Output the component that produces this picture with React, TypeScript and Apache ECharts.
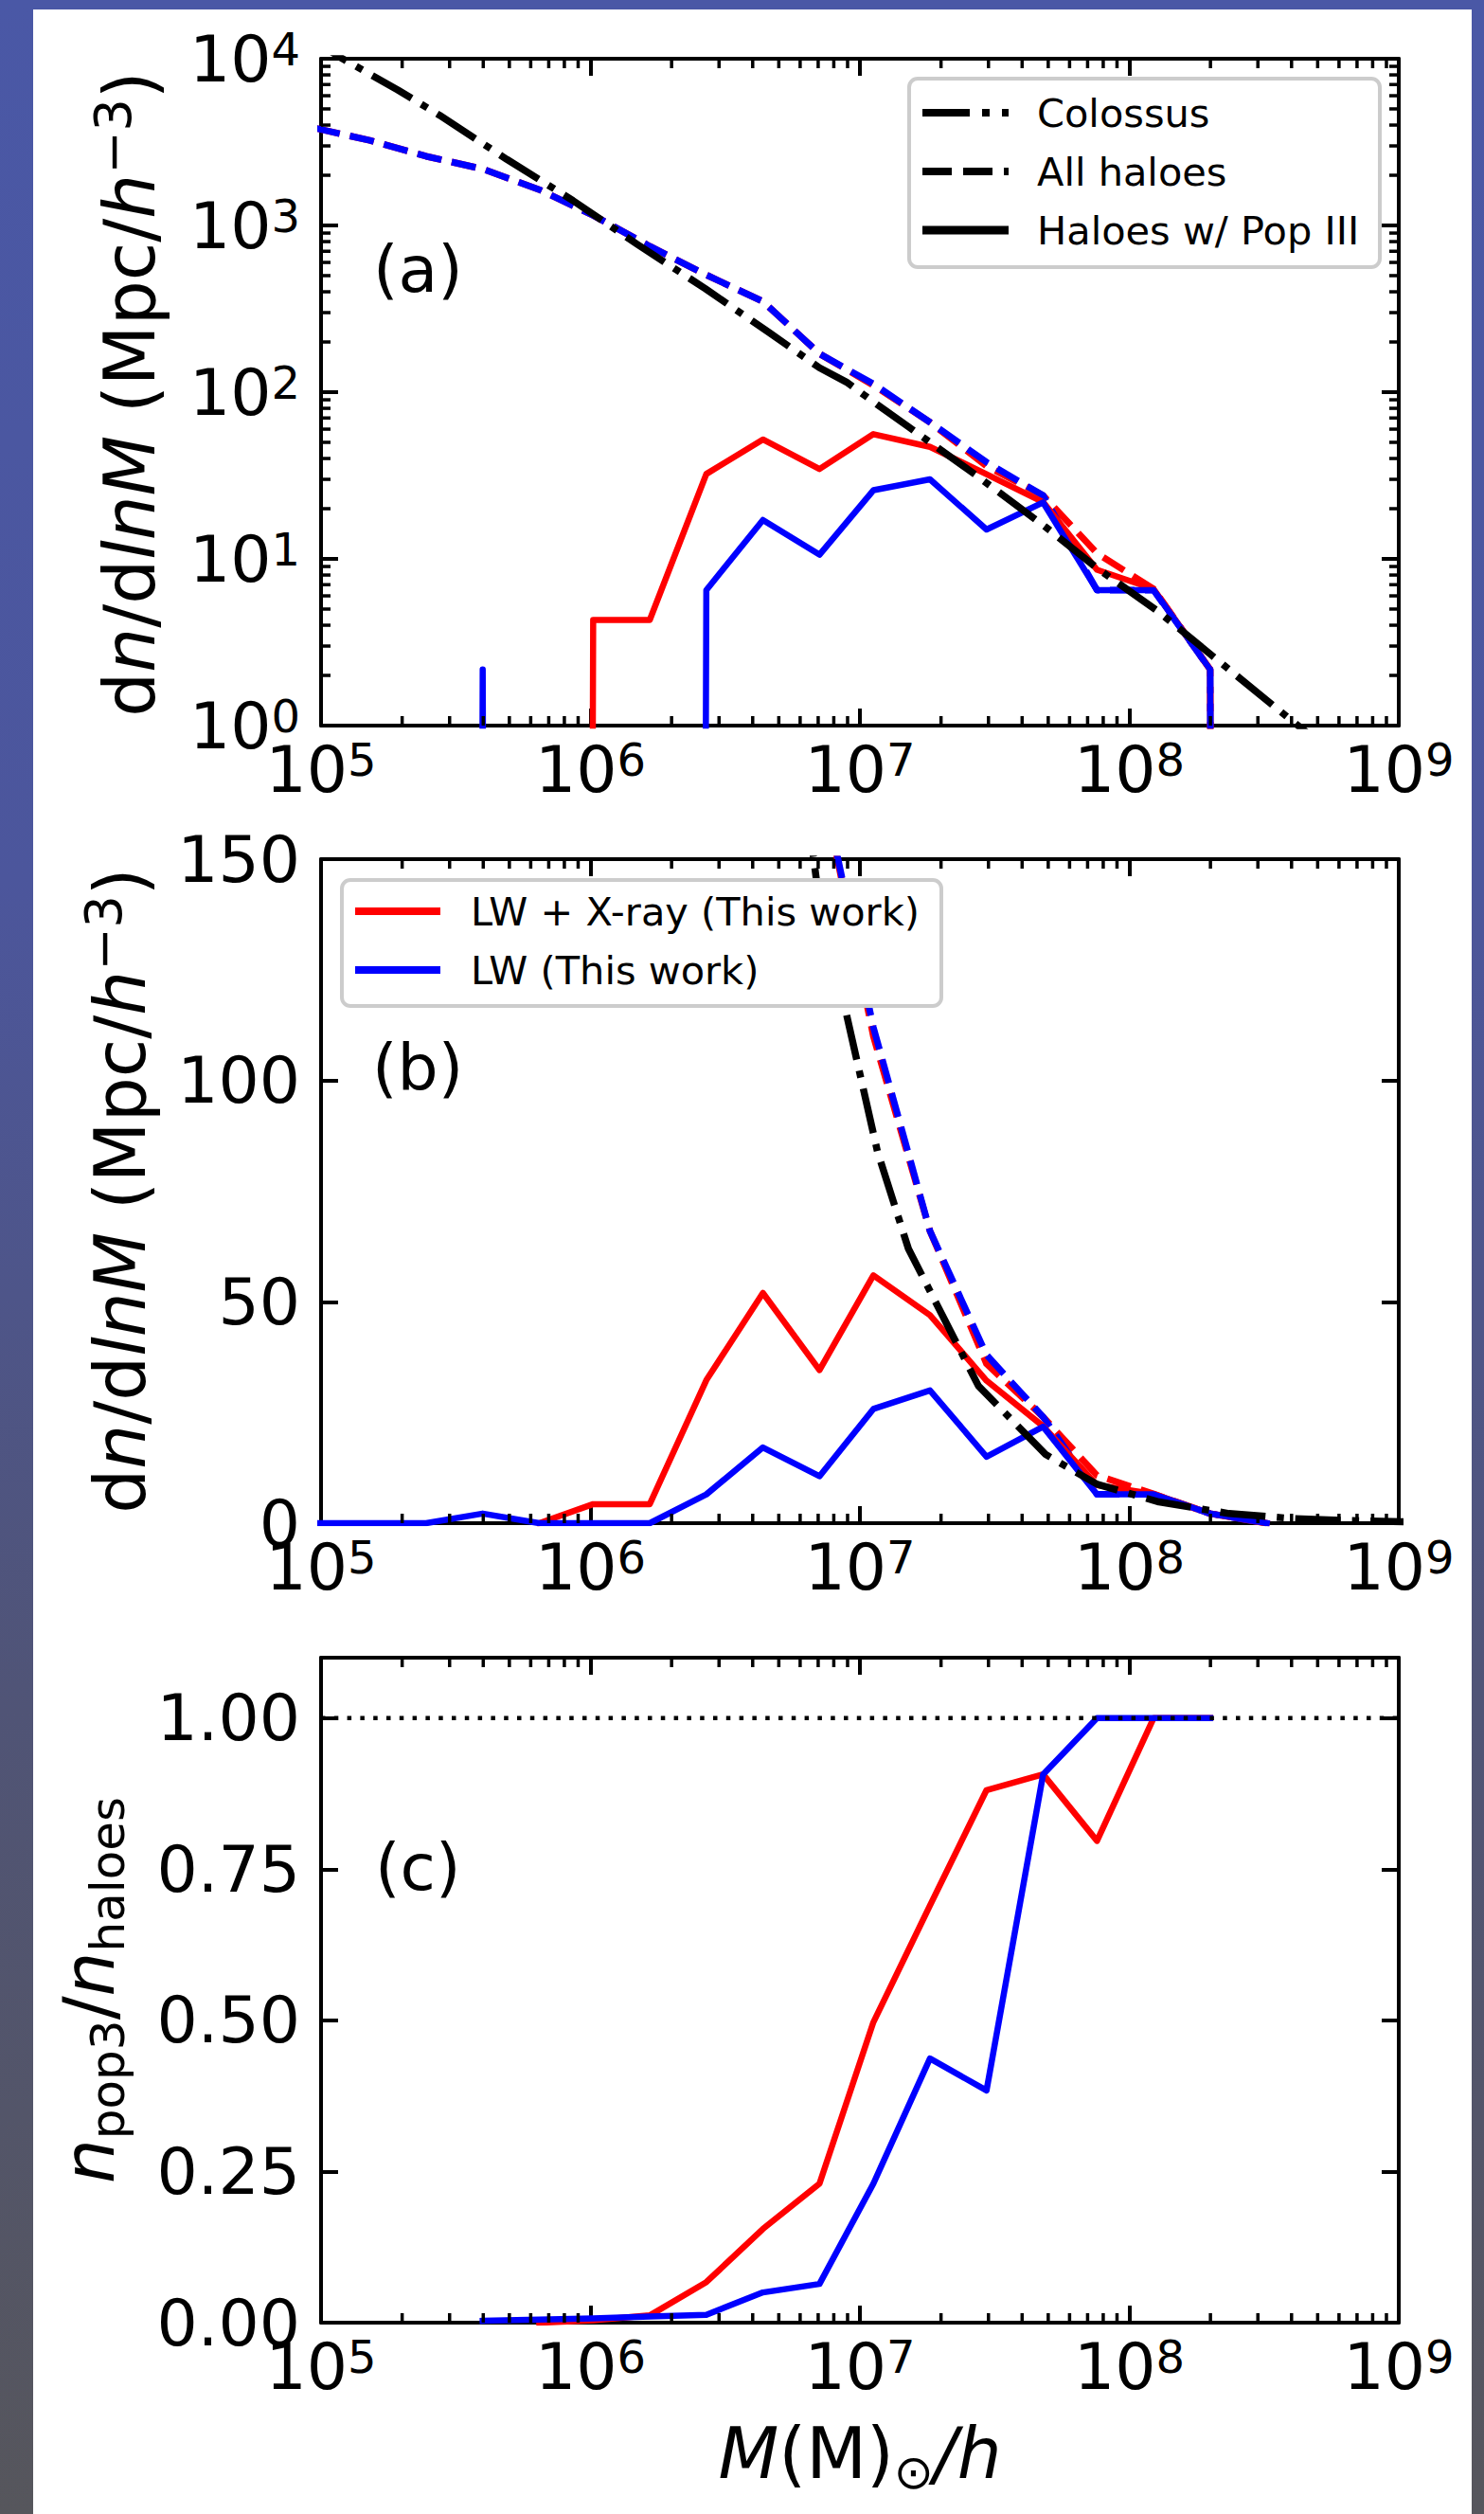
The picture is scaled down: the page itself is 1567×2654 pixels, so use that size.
import React, { useEffect, useRef } from "react";
import * as echarts from "echarts";

const FONT = "DejaVu Sans";
const W = 1567;
const H = 2654;

// ---------------- data ----------------
// log10 of halo mass bins (M_sun/h)
const massLog = [4.98, 5.18, 5.39, 5.6, 5.81, 6.01, 6.22, 6.43, 6.64, 6.85, 7.05, 7.26, 7.47, 7.68, 7.88, 8.09, 8.3, 8.51];
// dn/dlnM of all haloes (dashed)
const allHaloesXray = [3830, 3240, 2600, 2180, 1640, 1150, 750, 505, 350, 170, 110, 66, 36, 24, 10.8, 6.6, 2.17, 0];
const allHaloesLW = [3830, 3240, 2600, 2180, 1640, 1150, 750, 505, 350, 170, 112, 66, 38, 24, 6.5, 6.5, 2.17, 0];
// dn/dlnM of haloes hosting Pop III (solid)
const pop3Xray = [null, null, null, null, 0, 4.3, 4.3, 32.3, 52, 34.6, 56, 47, 32.2, 21.9, 8.6, 6.6, 2.17, 0];
const pop3LW = [0, 0, 0, 2.17, 0, 0, 0, 6.5, 17.1, 10.6, 25.8, 30, 15, 21.8, 6.5, 6.5, 2.17, 0];
// panel (c): fraction of haloes with Pop III
const fracMassLog = [5.6, 5.81, 6.01, 6.22, 6.43, 6.64, 6.85, 7.05, 7.26, 7.47, 7.68, 7.88, 8.09, 8.3];
const fracXray = [null, 0, 0.004, 0.012, 0.067, 0.155, 0.23, 0.497, 0.69, 0.881, 0.907, 0.797, 1.0, 1.0];
const fracLW = [0.003, 0.005, 0.007, 0.01, 0.013, 0.05, 0.064, 0.23, 0.437, 0.384, 0.907, 1.0, 1.0, 1.0];
// Colossus analytic mass function
const colossusMassLog = [4.95, 5.08, 5.285, 5.44, 5.69, 5.935, 6.174, 6.427, 6.666, 6.85, 6.95, 7.065, 7.18, 7.44, 7.69, 7.88, 8.11, 8.37, 8.6, 8.8, 9.05];
const colossusDensity = [13500, 10000, 6500, 4580, 2490, 1410, 770, 417, 226, 140, 115, 84, 62, 31, 15.5, 8.8, 4.8, 2.17, 1.08, 0.6, 0.28];
// ticks
const xTickExponents = [5, 6, 7, 8, 9];
const yTickExponentsA = [0, 1, 2, 3, 4];
const yTicksB = [0, 50, 100, 150];
const yTicksC = [0, 0.25, 0.5, 0.75, 1.0];
const yMaxC = 1.1;

// ---------------- style ----------------
const RED = "#ff0000";
const BLUE = "#0000ff";
const BLACK = "#000000";
const GRIDS = [
  { left: 339, top: 62, width: 1138, height: 704 },
  { left: 339, top: 907, width: 1138, height: 701 },
  { left: 339, top: 1750, width: 1138, height: 702 },
];

const pairs = (xs: number[], ys: (number | null)[], logSafe: boolean) =>
  xs
    .map((m, i) => {
      const y = ys[i];
      if (y === null || y === undefined) return null;
      return [Math.pow(10, m), logSafe ? (y > 0 ? y : 1e-100) : y];
    })
    .filter((p) => p !== null);

const powLabel = (v: number) => `{b|10}{s|${Math.round(Math.log10(v))}}`;
const powRich = {
  b: { fontFamily: FONT, fontSize: 68, lineHeight: 68, color: BLACK },
  s: { fontFamily: FONT, fontSize: 48, lineHeight: 30, verticalAlign: "top", color: BLACK },
};
const axisLineStyle = { color: BLACK, width: 4 };

function lineSeries(gi: number, data: any[], color: string, width: number, dash: number[] | null, z: number) {
  return {
    type: "line",
    xAxisIndex: 2 * gi,
    yAxisIndex: 2 * gi,
    data,
    symbol: "none",
    showSymbol: false,
    silent: true,
    clip: true,
    z,
    lineStyle: {
      color,
      width,
      type: dash ? dash : "solid",
      cap: dash ? "butt" : "square",
      join: "round",
    },
  };
}

const minorXVals: number[] = [];
xTickExponents.slice(0, -1).forEach((e) => {
  for (let d = 2; d <= 9; d++) minorXVals.push(d * Math.pow(10, e));
});
const minorYValsA: number[] = [];
yTickExponentsA.slice(0, -1).forEach((e) => {
  for (let d = 2; d <= 9; d++) minorYValsA.push(d * Math.pow(10, e));
});

const MINOR_LEN = 10;
const tickStyle = { stroke: BLACK, lineWidth: 3.5 };

function minorXSeries(gi: number, refY: number) {
  return {
    type: "custom",
    xAxisIndex: 2 * gi,
    yAxisIndex: 2 * gi,
    silent: true,
    clip: false,
    z: 10,
    data: minorXVals.map((v) => [v, refY]),
    renderItem: (params: any, api: any) => {
      const cs = params.coordSys;
      const x = api.coord([api.value(0), refY])[0];
      return {
        type: "group",
        children: [
          { type: "line", shape: { x1: x, y1: cs.y + cs.height, x2: x, y2: cs.y + cs.height - MINOR_LEN }, style: tickStyle },
          { type: "line", shape: { x1: x, y1: cs.y, x2: x, y2: cs.y + MINOR_LEN }, style: tickStyle },
        ],
      };
    },
  };
}

function minorYSeries(gi: number, refX: number, vals: number[]) {
  return {
    type: "custom",
    xAxisIndex: 2 * gi,
    yAxisIndex: 2 * gi,
    silent: true,
    clip: false,
    z: 10,
    data: vals.map((v) => [refX, v]),
    renderItem: (params: any, api: any) => {
      const cs = params.coordSys;
      const y = api.coord([refX, api.value(1)])[1];
      return {
        type: "group",
        children: [
          { type: "line", shape: { x1: cs.x, y1: y, x2: cs.x + MINOR_LEN, y2: y }, style: tickStyle },
          { type: "line", shape: { x1: cs.x + cs.width, y1: y, x2: cs.x + cs.width - MINOR_LEN, y2: y }, style: tickStyle },
        ],
      };
    },
  };
}

function xAxes(gi: number) {
  const base = {
    gridIndex: gi,
    type: "log",
    logBase: 10,
    min: Math.pow(10, xTickExponents[0]),
    max: Math.pow(10, xTickExponents[xTickExponents.length - 1]),
    splitLine: { show: false },
    minorTick: { show: false },
    axisLine: { show: true, onZero: false, lineStyle: axisLineStyle },
    axisTick: { show: true, inside: true, length: 18, lineStyle: axisLineStyle },
  };
  return [
    {
      ...base,
      position: "bottom",
      axisLabel: { show: true, margin: 12, formatter: powLabel, rich: powRich, color: BLACK, fontFamily: FONT, fontSize: 68 },
    },
    { ...base, position: "top", axisLabel: { show: false } },
  ];
}

function yAxes(gi: number, spec: any, labelFmt: any, rich?: any) {
  const base = {
    gridIndex: gi,
    splitLine: { show: false },
    minorTick: { show: false },
    axisLine: { show: true, onZero: false, lineStyle: axisLineStyle },
    axisTick: { show: true, inside: true, length: 18, lineStyle: axisLineStyle },
    ...spec,
  };
  return [
    {
      ...base,
      position: "left",
      axisLabel: { show: true, margin: 22, formatter: labelFmt, rich, color: BLACK, fontFamily: FONT, fontSize: 68 },
    },
    { ...base, position: "right", axisLabel: { show: false } },
  ];
}

const labelRich = {
  r: { fontFamily: FONT, fontSize: 74, lineHeight: 90, fill: BLACK, color: BLACK },
  i: { fontFamily: FONT, fontSize: 74, lineHeight: 90, fontStyle: "italic", fill: BLACK, color: BLACK },
  sup: { fontFamily: FONT, fontSize: 54, lineHeight: 40, verticalAlign: "top", fill: BLACK, color: BLACK },
  sub: { fontFamily: FONT, fontSize: 50, lineHeight: 40, verticalAlign: "bottom", fill: BLACK, color: BLACK },
};

function richText(x: number, y: number, text: string, rotation = 0) {
  return {
    type: "text",
    x,
    y,
    rotation,
    z: 100,
    silent: true,
    style: {
      text,
      rich: labelRich,
      fill: BLACK,
      fontFamily: FONT,
      fontSize: 74,
      align: "center",
      verticalAlign: "middle",
      textAlign: "center",
      textVerticalAlign: "middle",
    },
  };
}

function plainText(x: number, y: number, text: string, size: number) {
  return {
    type: "text",
    x,
    y,
    z: 100,
    silent: true,
    style: {
      text,
      fill: BLACK,
      fontFamily: FONT,
      fontSize: size,
      align: "left",
      verticalAlign: "middle",
      textAlign: "left",
      textVerticalAlign: "middle",
    },
  };
}

function handle(x1: number, x2: number, y: number, color: string, width: number, dash: number[] | null) {
  return {
    type: "line",
    z: 100,
    silent: true,
    shape: { x1, y1: y, x2, y2: y },
    style: { stroke: color, lineWidth: width, lineDash: dash || undefined, lineCap: "butt" },
  };
}

function legendBox(x: number, y: number, w: number, h: number) {
  return {
    type: "rect",
    z: 99,
    silent: true,
    shape: { x, y, width: w, height: h, r: 9 },
    style: { fill: "#ffffff", stroke: "#cccccc", lineWidth: 4 },
  };
}

function buildOption() {
  const DASH = [26, 11];
  const DASHDOT = [48, 12, 7.5, 12];
  const series: any[] = [
    // panel (a)
    lineSeries(0, pairs(massLog, allHaloesXray, true), RED, 7, DASH, 2),
    lineSeries(0, pairs(massLog, allHaloesLW, true), BLUE, 7, DASH, 3),
    lineSeries(0, pairs(massLog, pop3Xray, true), RED, 6.5, null, 4),
    lineSeries(0, pairs(massLog, pop3LW, true), BLUE, 6.5, null, 5),
    lineSeries(0, pairs(colossusMassLog, colossusDensity, true), BLACK, 7.5, DASHDOT, 6),
    // panel (b)
    lineSeries(1, pairs(massLog, allHaloesXray, false), RED, 7, DASH, 2),
    lineSeries(1, pairs(massLog, allHaloesLW, false), BLUE, 7, DASH, 3),
    lineSeries(1, pairs(massLog, pop3Xray, false), RED, 6.5, null, 4),
    lineSeries(1, pairs(massLog, pop3LW, false), BLUE, 6.5, null, 5),
    lineSeries(1, pairs(colossusMassLog, colossusDensity, false), BLACK, 7.5, DASHDOT, 6),
    // panel (c)
    lineSeries(2, pairs(fracMassLog, fracXray, false), RED, 6.5, null, 4),
    lineSeries(2, pairs(fracMassLog, fracLW, false), BLUE, 6.5, null, 5),
    lineSeries(
      2,
      [
        [Math.pow(10, xTickExponents[0]), 1],
        [Math.pow(10, xTickExponents[xTickExponents.length - 1]), 1],
      ],
      BLACK,
      4.5,
      [4.5, 9.3],
      6
    ),
    // minor ticks
    minorXSeries(0, 10),
    minorYSeries(0, 1e6, minorYValsA),
    minorXSeries(1, 50),
    minorXSeries(2, 0.5),
  ];

  const graphic: any[] = [
    // axis titles
    richText(137, 416, "{r|d}{i|n}{r|/d}{i|lnM}{r| (Mpc/}{i|h}{sup|\u22123}{r|)}", Math.PI / 2),
    richText(127, 1257, "{r|d}{i|n}{r|/d}{i|lnM}{r| (Mpc/}{i|h}{sup|\u22123}{r|)}", Math.PI / 2),
    richText(94, 2101, "{i|n}{sub|pop3}{r|/}{i|n}{sub|haloes}", Math.PI / 2),
    richText(908, 2590, "{i|M}{r|(M)}{sub|\u2299}{i|/h}"),
    // panel labels
    plainText(394, 284, "(a)", 68),
    plainText(393, 1127, "(b)", 68),
    plainText(396, 1971, "(c)", 68),
    // legend (a)
    legendBox(960, 83, 497, 199),
    handle(974, 1065, 119, BLACK, 8, [50, 13, 8, 13]),
    handle(974, 1065, 181, BLACK, 8, [31, 12]),
    handle(974, 1065, 243, BLACK, 9, null),
    plainText(1095, 119, "Colossus", 41.5),
    plainText(1095, 181, "All haloes", 41.5),
    plainText(1095, 243, "Haloes w/ Pop III", 41.5),
    // legend (b)
    legendBox(361, 929, 633, 133),
    handle(375, 465, 962, RED, 8, null),
    handle(375, 465, 1024, BLUE, 8, null),
    plainText(497, 962, "LW + X-ray (This work)", 41.5),
    plainText(497, 1024, "LW (This work)", 41.5),
  ];

  const fmtC = (v: number) => (yTicksC.some((t) => Math.abs(t - v) < 1e-9) ? v.toFixed(2) : "");
  const fmtB = (v: number) => (yTicksB.includes(v) ? String(v) : "");

  return {
    animation: false,
    backgroundColor: "transparent",
    textStyle: { fontFamily: FONT },
    grid: GRIDS.map((g) => ({ ...g, containLabel: false })),
    xAxis: [...xAxes(0), ...xAxes(1), ...xAxes(2)],
    yAxis: [
      ...yAxes(
        0,
        {
          type: "log",
          logBase: 10,
          min: Math.pow(10, yTickExponentsA[0]),
          max: Math.pow(10, yTickExponentsA[yTickExponentsA.length - 1]),
        },
        powLabel,
        powRich
      ),
      ...yAxes(1, { type: "value", min: yTicksB[0], max: yTicksB[yTicksB.length - 1], interval: 50 }, fmtB),
      ...yAxes(2, { type: "value", min: 0, max: yMaxC, interval: 0.25 }, fmtC),
    ],
    series,
    graphic: { elements: graphic },
  };
}

export default function App() {
  const ref = useRef<HTMLDivElement>(null);
  useEffect(() => {
    document.body.style.margin = "0";
    document.body.style.overflow = "hidden";
    const chart = echarts.init(ref.current as HTMLDivElement, null, { renderer: "svg" });
    chart.setOption(buildOption() as any);
    return () => chart.dispose();
  }, []);
  return (
    <div
      style={{
        position: "absolute",
        left: 0,
        top: 0,
        width: W,
        height: H,
        background: "linear-gradient(to bottom, #4a58a6 0%, #4c569c 35%, #505476 68%, #56565c 100%)",
      }}
    >
      <div style={{ position: "absolute", left: 35, top: 10, width: 1519, height: H - 10, background: "#ffffff" }} />
      <div ref={ref} style={{ position: "absolute", left: 0, top: 0, width: W, height: H }} />
    </div>
  );
}
